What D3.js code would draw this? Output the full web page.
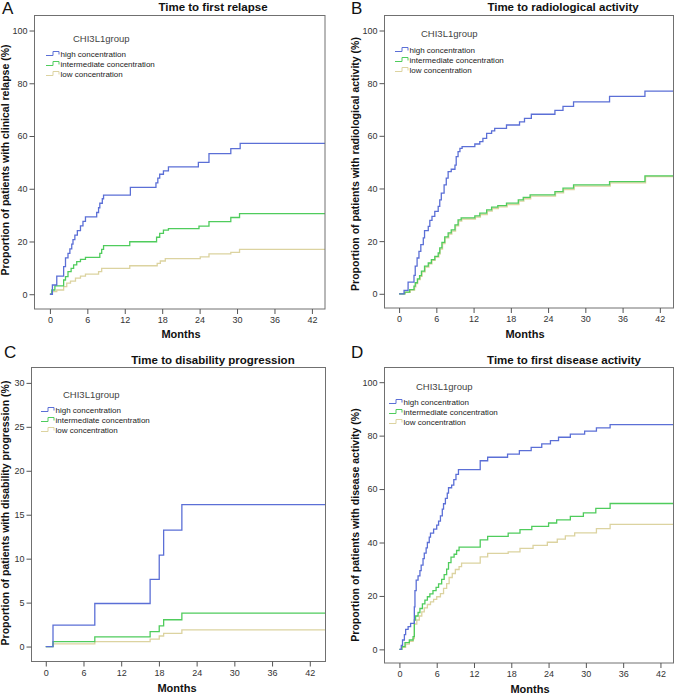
<!DOCTYPE html>
<html>
<head>
<meta charset="utf-8">
<script src="https://cdn.jsdelivr.net/npm/d3@7"></script>
<style>
  body { margin: 0; background: #fff; }
  svg { display: block; font-family: "Liberation Sans", Arial, sans-serif; }
</style>
</head>
<body>
<svg id="chart" width="676" height="695"></svg>
<script>
// series: [month, cumulative %] step points
var groups = ["high concentration", "intermediate concentration", "low concentration"];
var colors = ["#5b6fd6", "#4fcc5c", "#dcd3a0"];

var relapseHigh = [[0,0],[0.4,3.5],[1.1,6.9],[2.2,10.5],[2.5,13.8],[2.9,15.5],[3.2,17.2],[3.5,19.0],[3.7,20.7],[4.0,22.4],[4.4,24.1],[4.9,25.9],[5.3,27.6],[5.7,29.3],[7.5,31.0],[7.8,32.8],[8.0,34.5],[8.4,36.2],[8.6,37.6],[12.9,40.5],[17.0,42.2],[17.3,44.0],[17.6,45.5],[18.2,46.8],[19.0,48.3],[23.8,50.0],[25.5,53.3],[29.0,55.2],[30.5,57.2]];
var relapseMid = [[0,0],[0.3,1.6],[0.8,3.2],[2.2,5.4],[2.5,6.7],[2.9,8.6],[3.4,9.8],[3.8,11.1],[4.3,12.4],[4.9,13.2],[5.7,14.0],[8.0,15.5],[8.3,17.0],[8.6,18.4],[12.8,19.9],[17.1,21.6],[17.6,23.1],[18.2,24.3],[19.0,24.9],[23.9,25.8],[25.5,27.5],[29.0,29.1],[30.4,30.6]];
var relapseLow = [[0,0],[0.3,1.0],[1.1,1.6],[2.2,2.9],[2.7,4.2],[3.3,5.0],[4.1,6.1],[4.9,6.9],[5.7,7.6],[7.8,8.6],[8.3,9.8],[12.8,10.8],[17.2,11.7],[17.7,12.6],[18.5,13.5],[24.1,14.2],[25.5,15.3],[29.0,15.9],[30.4,17.0]];

var radioHigh = [[0,0],[0.8,1.3],[1.45,4.4],[2.4,7.0],[2.6,10.5],[2.9,13.6],[3.2,16.1],[3.5,18.7],[3.9,21.2],[4.1,24.0],[4.7,25.6],[4.95,27.9],[5.3,29.4],[5.75,31.3],[6.3,33.2],[6.55,35.7],[6.8,38.2],[7.25,41.4],[7.6,43.9],[7.9,46.4],[8.4,47.3],[9.0,48.9],[9.2,52.1],[9.5,54.0],[9.8,55.2],[10.15,55.9],[12.2,56.9],[13.0,57.8],[13.5,59.0],[14.1,60.9],[14.9,61.9],[15.4,62.8],[17.3,64.1],[19.4,65.3],[20.2,66.6],[21.3,68.2],[25.1,69.7],[26.4,71.2],[28.1,72.9],[33.9,75.0],[39.6,77.0]];
var radioMid = [[0,0],[0.9,0.6],[1.7,1.6],[2.4,2.9],[2.6,4.2],[2.95,5.7],[3.3,6.9],[3.6,8.6],[4.1,10.5],[4.7,11.7],[5.2,13.0],[5.75,14.2],[6.3,15.5],[6.55,17.4],[6.9,19.5],[7.35,21.6],[7.9,23.1],[8.4,24.3],[9.0,26.2],[9.5,28.1],[10.0,28.8],[12.2,29.6],[13.0,30.6],[14.1,31.9],[14.9,32.9],[15.9,33.5],[17.3,34.4],[19.2,35.7],[20.0,36.6],[21.1,37.6],[25.1,38.8],[26.4,40.1],[28.1,41.4],[33.9,42.6],[39.6,44.8]];
var radioLow = [[0,0],[1.0,0.5],[1.8,1.4],[2.5,2.6],[2.7,3.9],[3.0,5.4],[3.4,6.6],[3.7,8.3],[4.2,10.1],[4.8,11.4],[5.3,12.7],[5.8,13.9],[6.4,15.1],[6.6,17.0],[7.0,19.1],[7.4,21.2],[8.0,22.7],[8.5,23.8],[9.1,25.8],[9.6,27.6],[10.1,28.4],[12.3,29.1],[13.1,30.1],[14.2,31.4],[15.0,32.4],[16.0,33.0],[17.4,33.9],[19.3,35.2],[20.1,36.1],[21.2,37.1],[25.2,38.3],[26.5,39.6],[28.2,40.9],[34.0,42.1],[39.7,44.5]];

var disabHigh = [[0,0],[1.15,2.45],[7.8,4.9],[16.6,7.65],[18.05,10.4],[18.75,13.25],[21.65,16.15]];
var disabMid = [[0,0],[1.15,0.55],[7.8,1.1],[16.6,1.7],[18.05,2.35],[18.75,3.05],[21.65,3.8]];
var disabLow = [[0,0],[1.15,0.3],[7.8,0.55],[16.6,0.85],[18.05,1.2],[18.75,1.5],[21.65,1.9]];

var activHigh = [[0,0],[0.3,1.5],[0.5,3.5],[0.8,5.5],[1.0,7.5],[1.4,8.5],[1.8,9.7],[2.4,15.9],[2.5,22.0],[2.7,25.9],[3.0,27.5],[3.3,29.5],[3.5,31.5],[3.8,34.0],[4.0,36.0],[4.3,38.0],[4.5,40.0],[4.8,42.0],[5.0,43.5],[5.5,45.0],[6.0,46.5],[6.3,48.0],[6.6,50.0],[6.9,52.5],[7.1,54.5],[7.4,56.5],[7.7,58.5],[7.9,60.5],[8.4,61.5],[8.75,63.5],[9.1,65.5],[9.5,67.3],[13.0,70.6],[14.2,71.9],[17.4,73.1],[19.3,74.4],[21.2,75.6],[22.9,76.9],[24.3,78.1],[25.6,79.4],[27.5,80.6],[29.8,81.7],[31.7,82.9],[33.9,84.1]];
var activMid = [[0,0],[0.4,1.0],[0.9,2.5],[1.6,3.5],[2.2,4.8],[2.4,11.0],[2.6,12.5],[3.0,13.8],[3.3,15.3],[3.7,17.0],[4.1,18.4],[4.5,19.7],[4.9,20.8],[5.4,22.0],[5.9,23.2],[6.3,24.5],[6.8,26.2],[7.2,28.0],[7.6,30.0],[7.9,32.5],[8.3,34.5],[8.8,35.6],[9.2,37.0],[9.6,38.3],[13.0,41.0],[14.2,42.3],[17.5,43.5],[19.4,44.8],[21.3,46.0],[24.0,47.3],[25.3,48.5],[27.5,49.8],[29.6,51.1],[31.6,52.8],[33.9,54.6]];
var activLow = [[0,0],[0.4,0.8],[1.0,2.0],[1.6,3.0],[2.2,4.0],[2.4,9.5],[2.8,11.0],[3.2,12.5],[3.6,14.0],[4.0,15.5],[4.5,16.8],[5.0,17.8],[5.5,18.7],[6.0,19.7],[6.6,20.9],[7.1,22.8],[7.6,24.6],[8.0,26.9],[8.5,28.4],[9.0,29.9],[9.6,31.0],[10.0,32.3],[13.0,34.6],[14.2,35.9],[17.5,36.5],[19.4,37.8],[21.5,38.9],[23.8,40.1],[25.4,41.3],[26.7,42.5],[28.2,43.6],[31.7,45.2],[33.9,46.8]];

var xTicks = [0, 6, 12, 18, 24, 30, 36, 42];
var yTicksPct = [0, 20, 40, 60, 80, 100];
var yTicksDisab = [0, 5, 10, 15, 20, 25, 30];

var panels = [
  { letter: "A", title: "Time to first relapse", ylabel: "Proportion of patients with clinical relapse (%)",
    series: [relapseHigh, relapseMid, relapseLow], yTicks: yTicksPct,
    box: { x: 34.5, y: 15.5, w: 290.5, h: 293.5 }, xdom: [-2.47, 44.1], ydom: [-5.6, 105.7],
    letterPos: [2, 14], titlePos: [213, 11], ylabPos: [9, 160], xlabPos: [181, 338],
    legend: { tx: 73, ty: 42, sx: 46, ry: 53.5 } },
  { letter: "B", title: "Time to radiological activity", ylabel: "Proportion of patients with radiological activity (%)",
    series: [radioHigh, radioMid, radioLow], yTicks: yTicksPct,
    box: { x: 384.5, y: 15.5, w: 289, h: 292.5 }, xdom: [-2.35, 44.2], ydom: [-5.4, 105.7],
    letterPos: [351, 14], titlePos: [563, 11], ylabPos: [359, 164], xlabPos: [525, 338],
    legend: { tx: 421, ty: 37, sx: 395, ry: 49.5 } },
  { letter: "C", title: "Time to disability progression", ylabel: "Proportion of patients with disability progression (%)",
    series: [disabHigh, disabMid, disabLow], yTicks: yTicksDisab,
    box: { x: 31.5, y: 367.5, w: 294, h: 294 }, xdom: [-2.27, 44.5], ydom: [-1.7, 31.75],
    letterPos: [4, 358], titlePos: [213, 364], ylabPos: [9, 513], xlabPos: [177, 692],
    legend: { tx: 63, ty: 398, sx: 41, ry: 409.5 } },
  { letter: "D", title: "Time to first disease activity", ylabel: "Proportion of patients with disease activity (%)",
    series: [activHigh, activMid, activLow], yTicks: yTicksPct,
    box: { x: 384.5, y: 367.5, w: 289, h: 295.5 }, xdom: [-2.4, 44.1], ydom: [-5.1, 105.5],
    letterPos: [351, 358], titlePos: [564, 364], ylabPos: [359, 525], xlabPos: [530, 693],
    legend: { tx: 416, ty: 390, sx: 389, ry: 401.5 } }
];

var svg = d3.select("#chart");

panels.forEach(function(p, i) {
  var b = p.box;
  var x = d3.scaleLinear().domain(p.xdom).range([b.x, b.x + b.w]);
  var y = d3.scaleLinear().domain(p.ydom).range([b.y + b.h, b.y]);

  var g = svg.append("g");

  g.append("clipPath").attr("id", "clip" + i)
    .append("rect").attr("x", b.x).attr("y", b.y).attr("width", b.w).attr("height", b.h);

  // curves, drawn low first so blue ends on top
  var line = d3.line().curve(d3.curveStepAfter)
    .x(function(d) { return x(d[0]); })
    .y(function(d) { return y(d[1]); });

  [2, 1, 0].forEach(function(k) {
    var s = p.series[k];
    var pts = s.concat([[p.xdom[1], s[s.length - 1][1]]]);
    g.append("path")
      .attr("clip-path", "url(#clip" + i + ")")
      .attr("d", line(pts))
      .attr("fill", "none")
      .attr("stroke", colors[k])
      .attr("stroke-width", 1.3);
  });

  // frame
  g.append("rect").attr("x", b.x).attr("y", b.y).attr("width", b.w).attr("height", b.h)
    .attr("fill", "none").attr("stroke", "#707070").attr("stroke-width", 1);

  var xAxis = g.append("g").attr("transform", "translate(0," + (b.y + b.h) + ")")
    .call(d3.axisBottom(x).tickValues(xTicks).tickSize(5).tickPadding(3));
  var yAxis = g.append("g").attr("transform", "translate(" + b.x + ",0)")
    .call(d3.axisLeft(y).tickValues(p.yTicks).tickSize(5).tickPadding(2));
  [xAxis, yAxis].forEach(function(a) {
    a.select(".domain").remove();
    a.selectAll("line").attr("stroke", "#555");
    a.selectAll("text").attr("fill", "#333").style("font-size", "9px")
      .style("font-family", "Liberation Sans, Arial, sans-serif");
  });

  // labels
  g.append("text").attr("x", p.letterPos[0]).attr("y", p.letterPos[1])
    .style("font-size", "17px").attr("fill", "#111").text(p.letter);
  g.append("text").attr("x", p.titlePos[0]).attr("y", p.titlePos[1])
    .attr("text-anchor", "middle").style("font-size", "11.5px").style("font-weight", "bold")
    .attr("fill", "#111").text(p.title);
  g.append("text").attr("x", p.xlabPos[0]).attr("y", p.xlabPos[1])
    .attr("text-anchor", "middle").style("font-size", "11px").style("font-weight", "bold")
    .attr("fill", "#111").text("Months");
  g.append("text")
    .attr("transform", "translate(" + p.ylabPos[0] + "," + p.ylabPos[1] + ") rotate(-90)")
    .attr("text-anchor", "middle").style("font-size", "10.5px").style("font-weight", "bold")
    .attr("fill", "#111").text(p.ylabel);

  // legend
  var L = p.legend;
  g.append("text").attr("x", L.tx).attr("y", L.ty)
    .style("font-size", "9.5px").attr("fill", "#444").text("CHI3L1group");
  groups.forEach(function(name, k) {
    var ry = L.ry + k * 10;
    g.append("path")
      .attr("d", "M" + L.sx + "," + (ry + 2) + "H" + (L.sx + 7) + "V" + (ry - 2) + "H" + (L.sx + 13) + "V" + (ry + 1))
      .attr("fill", "none").attr("stroke", colors[k]).attr("stroke-width", 1);
    g.append("text").attr("x", L.sx + 14.5).attr("y", ry + 3)
      .style("font-size", "8px").attr("fill", "#222").text(name);
  });
});
</script>
</body>
</html>
